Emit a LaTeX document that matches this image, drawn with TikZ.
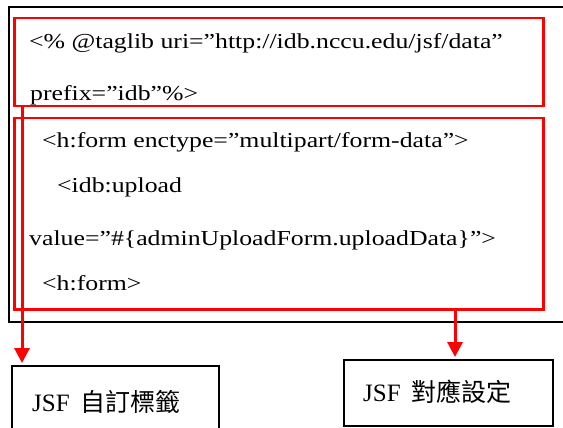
\documentclass[tikz,border=0pt]{standalone}
\usepackage{fontspec}
\setmainfont{Liberation Serif}
\newfontfamily\cjk{Noto Sans CJK TC}
\usetikzlibrary{arrows.meta}
\tikzset{
  outerbox/.style={draw=black, line width=2pt, inner sep=0pt, anchor=north west},
  redbox/.style={draw=red, line width=2.5pt, inner sep=0pt, anchor=north west},
  lblbox/.style={draw=black, line width=1.6pt, inner sep=0pt, anchor=north west},
  code/.style={anchor=base west, inner sep=0pt, font=\fontsize{21.3}{25}\selectfont},
  lbl/.style={anchor=base west, inner sep=0pt, font=\fontsize{25}{30}\selectfont},
  redarrow/.style={draw=red, line width=3pt, -{Triangle[width=15pt,length=15pt]}, red}
}
\newcommand{\wide}[1]{\scalebox{1.21}[1]{#1}}
\begin{document}
\begin{tikzpicture}[x=1pt,y=-1pt]
\useasboundingbox (0,0) rectangle (563,428);
\fill[white] (0,0) rectangle (563,428);
% outer frame (right side runs off the page)
\node[outerbox, minimum width=580pt, minimum height=315pt] (frame) at (8,6) {};
% red boxes
\node[redbox, minimum width=529pt, minimum height=88pt] (box1) at (13,17) {};
\node[redbox, minimum width=529pt, minimum height=191pt] (box2) at (13,117) {};
% code text
\node[code] (t1) at (29,49) {\wide{<\% @taglib uri=”http://idb.nccu.edu/jsf/data”}};
\node[code] (t2) at (30,100) {\wide{prefix=”idb”\%>}};
\node[code] (t3) at (42,147) {\wide{<h:form enctype=”multipart/form-data”>}};
\node[code] (t4) at (57,192) {\wide{<idb:upload}};
\node[code] (t5) at (29,245) {\wide{value=”\#\{adminUploadForm.uploadData\}”>}};
\node[code] (t6) at (42,290) {\wide{<h:form>}};
% label boxes
\node[lblbox, minimum width=207pt, minimum height=80pt] (lbl1) at (11,365) {};
\node[lblbox, minimum width=209pt, minimum height=66pt] (lbl2) at (343,359) {};
\node[lbl] (l1) at (32,411) {JSF\hspace{0.45em}{\cjk 自訂標籤}};
\node[lbl] (l2) at (363,401) {JSF\hspace{0.45em}{\cjk 對應設定}};
% arrows
\draw[redarrow] ([xshift=9pt]box1.south west) -- ([xshift=11pt,yshift=2pt]lbl1.north west);
\draw[redarrow] ([xshift=442pt]box2.south west) -- ([xshift=112pt,yshift=2pt]lbl2.north west);
\end{tikzpicture}
\end{document}
